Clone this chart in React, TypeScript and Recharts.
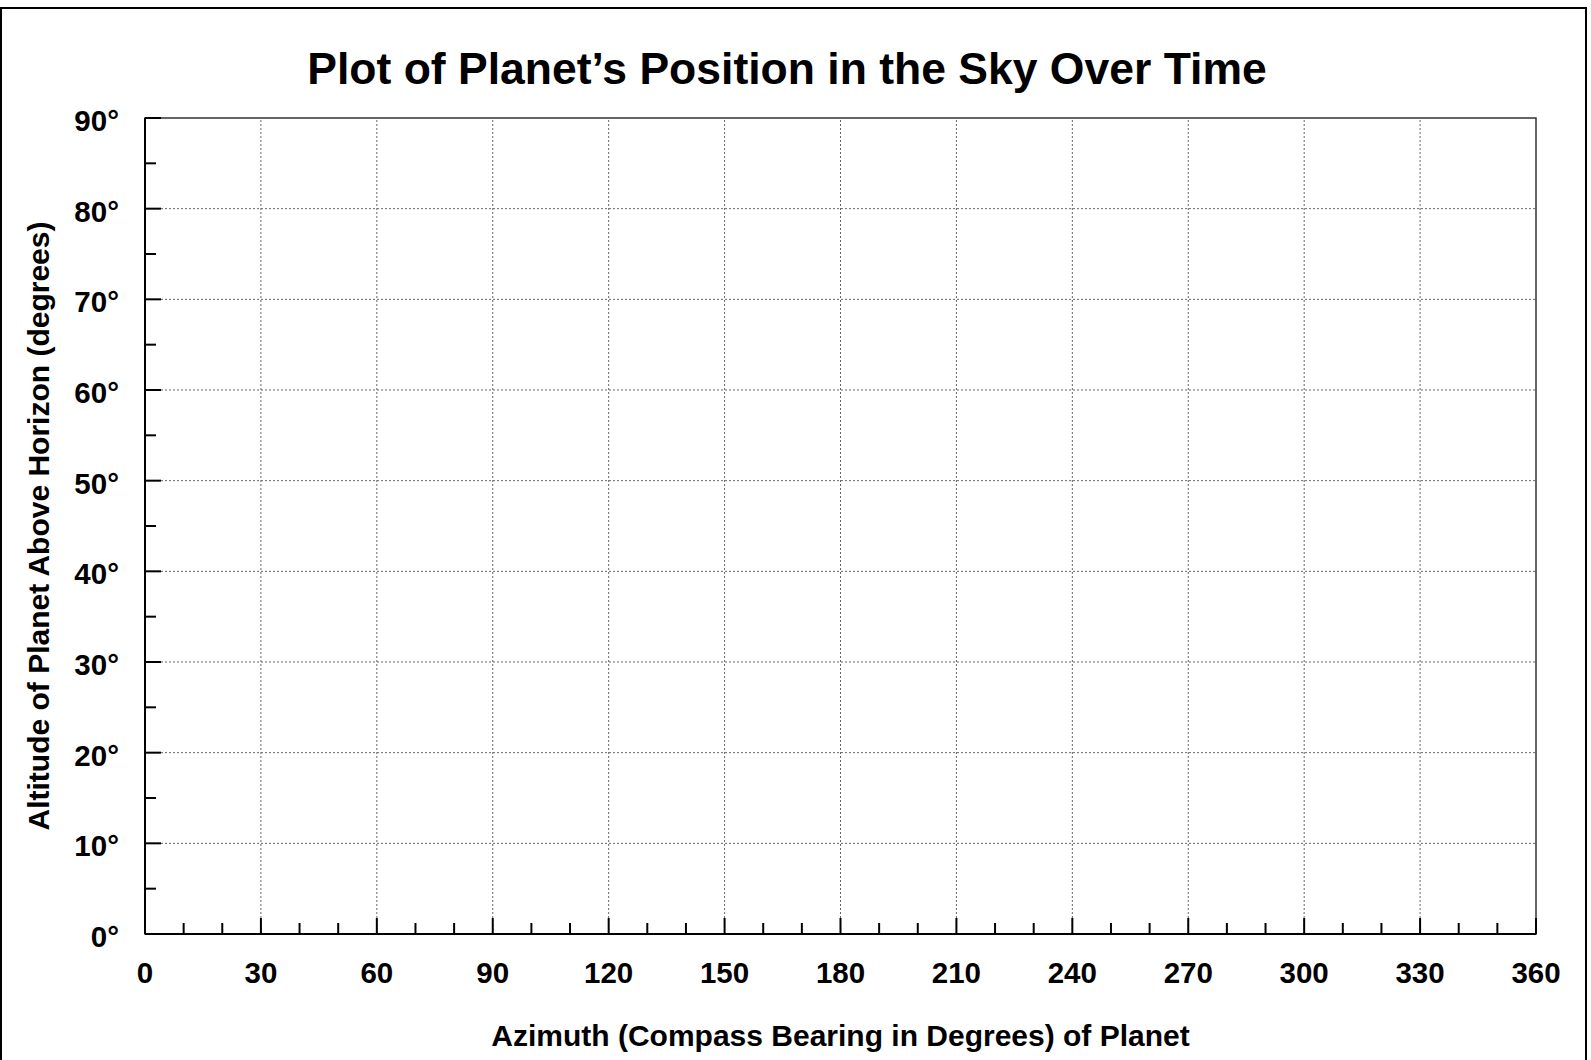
import { ScatterChart, Scatter, XAxis, YAxis, ReferenceLine, ReferenceArea } from "recharts";

// azimuth ticks (minor every 10, labelled every 30)
const azimuthTicks = [0, 10, 20, 30, 40, 50, 60, 70, 80, 90, 100, 110, 120, 130, 140, 150, 160, 170, 180, 190, 200, 210, 220, 230, 240, 250, 260, 270, 280, 290, 300, 310, 320, 330, 340, 350, 360];
const azimuthLabels = [0, 30, 60, 90, 120, 150, 180, 210, 240, 270, 300, 330, 360];
const azimuthGrid = [30, 60, 90, 120, 150, 180, 210, 240, 270, 300, 330];

// altitude ticks (minor every 5, labelled every 10)
const altitudeTicks = [0, 5, 10, 15, 20, 25, 30, 35, 40, 45, 50, 55, 60, 65, 70, 75, 80, 85, 90];
const altitudeLabels = [0, 10, 20, 30, 40, 50, 60, 70, 80, 90];
const altitudeGrid = [10, 20, 30, 40, 50, 60, 70, 80];

// blank worksheet: no observations plotted yet
const planetPositions: { azimuth: number; altitude: number }[] = [];

const FONT = "'Liberation Sans', Arial, Helvetica, sans-serif";

function AzimuthTick(props: any) {
    const { x, y, payload } = props;
    const major = azimuthLabels.includes(payload.value);
    return (
        <g>
            <line x1={x} x2={x} y1={y} y2={y - (major ? 16 : 11)} stroke="#000" strokeWidth={2} />
            {major && (
                <text x={x} y={y + 49} textAnchor="middle" fontFamily={FONT} fontWeight="bold" fontSize={29.5} fill="#000">
                    {payload.value}
                </text>
            )}
        </g>
    );
}

function AltitudeTick(props: any) {
    const { x, y, payload } = props;
    const major = altitudeLabels.includes(payload.value);
    return (
        <g>
            <line x1={x} x2={x + (major ? 16 : 11)} y1={y} y2={y} stroke="#000" strokeWidth={2} />
            {major && (
                <text x={x - 26} y={y + 13} textAnchor="end" fontFamily={FONT} fontWeight="bold" fontSize={29.5} fill="#000">
                    {payload.value}°
                </text>
            )}
        </g>
    );
}

export default function App() {
    return (
        <div style={{ position: "absolute", left: 0, top: 0, width: 1591, height: 1060, overflow: "hidden", background: "#fff" }}>
            {/* outer frame */}
            <div style={{ position: "absolute", left: 0, top: 7, width: 1587, height: 1100, border: "2px solid #000", boxSizing: "border-box" }} />

            <div
                style={{
                    position: "absolute",
                    left: 0,
                    top: 47,
                    width: 1574,
                    textAlign: "center",
                    fontFamily: FONT,
                    fontWeight: "bold",
                    fontSize: 44.5,
                    lineHeight: "43px",
                    color: "#000",
                }}
            >
                Plot of Planet’s Position in the Sky Over Time
            </div>

            <div style={{ position: "absolute", left: 0, top: 0 }}>
                <ScatterChart width={1591} height={1060} margin={{ top: 118, right: 55, left: 35, bottom: 66 }}>
                    {azimuthGrid.map((v) => (
                        <ReferenceLine key={"x" + v} x={v} stroke="#666" strokeDasharray="2 2" strokeWidth={1} />
                    ))}
                    {altitudeGrid.map((v) => (
                        <ReferenceLine key={"y" + v} y={v} stroke="#666" strokeDasharray="2 2" strokeWidth={1} />
                    ))}
                    <ReferenceArea x1={0} x2={360} y1={0} y2={90} fill="none" stroke="#333" strokeWidth={1.5} />

                    <XAxis
                        type="number"
                        dataKey="azimuth"
                        domain={[0, 360]}
                        ticks={azimuthTicks}
                        interval={0}
                        tickSize={0}
                        tickMargin={0}
                        tickLine={false}
                        tick={<AzimuthTick />}
                        height={60}
                        axisLine={{ stroke: "#000", strokeWidth: 2 }}
                        allowDataOverflow
                        label={{
                            value: "Azimuth (Compass Bearing in Degrees) of Planet",
                            position: "bottom",
                            offset: 31,
                            style: { fontFamily: FONT, fontWeight: "bold", fontSize: 30, fill: "#000" },
                        }}
                    />
                    <YAxis
                        type="number"
                        dataKey="altitude"
                        domain={[0, 90]}
                        ticks={altitudeTicks}
                        interval={0}
                        tickSize={0}
                        tickMargin={0}
                        tickLine={false}
                        tick={<AltitudeTick />}
                        width={110}
                        axisLine={{ stroke: "#000", strokeWidth: 2 }}
                        allowDataOverflow
                        label={{
                            value: "Altitude of Planet Above Horizon (degrees)",
                            angle: -90,
                            position: "insideLeft",
                            offset: 3,
                            style: { textAnchor: "middle", fontFamily: FONT, fontWeight: "bold", fontSize: 30, fill: "#000" },
                        }}
                    />
                    <Scatter data={planetPositions} fill="#000" isAnimationActive={false} />
                </ScatterChart>
            </div>
        </div>
    );
}
